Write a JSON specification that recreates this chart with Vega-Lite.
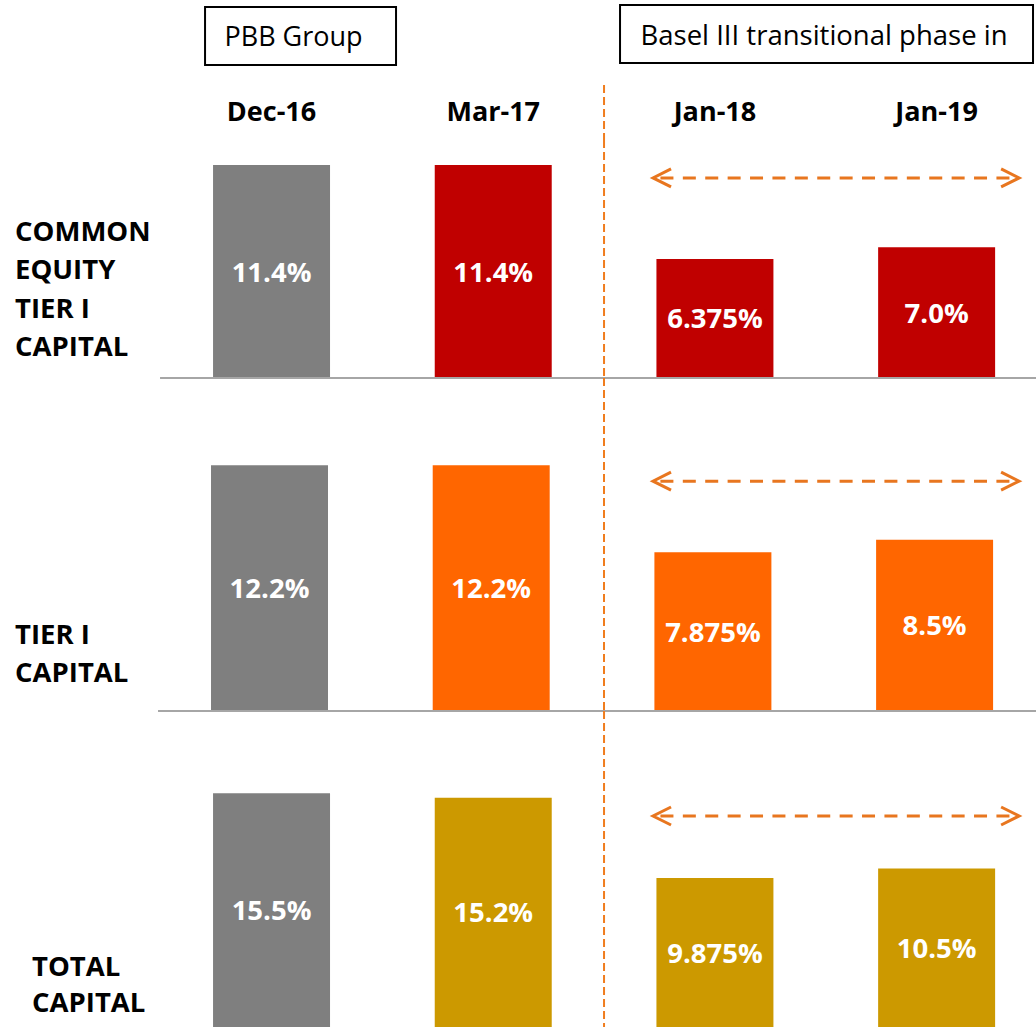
{
  "$schema": "https://vega.github.io/schema/vega-lite/v6.json",
  "padding": 0,
  "spacing": 0,
  "bounds": "flush",
  "background": "white",
  "config": {"view": {"stroke": null}, "axis": {"disable": true}, "font": "Open Sans"},
  "resolve": {"scale": {"x": "independent", "y": "independent", "color": "independent"}},
  "datasets": {
    "bars": [
      {"measure": "CET1", "period": "Dec-16", "value": 11.4, "label": "11.4%"},
      {"measure": "CET1", "period": "Mar-17", "value": 11.4, "label": "11.4%"},
      {"measure": "CET1", "period": "Jan-18", "value": 6.375, "label": "6.375%"},
      {"measure": "CET1", "period": "Jan-19", "value": 7.0, "label": "7.0%"},
      {"measure": "T1", "period": "Dec-16", "value": 12.2, "label": "12.2%"},
      {"measure": "T1", "period": "Mar-17", "value": 12.2, "label": "12.2%"},
      {"measure": "T1", "period": "Jan-18", "value": 7.875, "label": "7.875%"},
      {"measure": "T1", "period": "Jan-19", "value": 8.5, "label": "8.5%"},
      {"measure": "TC", "period": "Dec-16", "value": 15.5, "label": "15.5%"},
      {"measure": "TC", "period": "Mar-17", "value": 15.2, "label": "15.2%"},
      {"measure": "TC", "period": "Jan-18", "value": 9.875, "label": "9.875%"},
      {"measure": "TC", "period": "Jan-19", "value": 10.5, "label": "10.5%"}
    ]
  },
  "vconcat": [
    {
      "width": 1036,
      "height": 140,
      "layer": [
        {
          "data": {"name": "bars"},
          "transform": [{"filter": "datum.measure == 'CET1'"}],
          "mark": {"type": "text", "font": "Open Sans", "fontWeight": "bold", "fontSize": 27, "color": "black", "baseline": "middle", "dy": 2},
          "encoding": {
            "x": {"field": "period", "type": "nominal", "sort": null, "scale": {"domain": ["Dec-16", "Mar-17", "Jan-18", "Jan-19"], "paddingInner": 0.4723, "paddingOuter": 0.5727, "align": 0.839}},
            "y": {"datum": "columns", "type": "nominal", "scale": {"type": "band", "domain": ["boxes", "columns"], "paddingInner": 0.247, "paddingOuter": 0.0325, "align": 1}},
            "text": {"field": "period"}
          }
        },
        {
          "data": {"values": [{}]},
          "mark": {"type": "rect", "fill": "white", "stroke": "black", "strokeWidth": 2, "xOffset": -8, "x2Offset": 66, "yOffset": 2, "y2Offset": 2},
          "encoding": {
            "x": {"datum": "Dec-16", "type": "nominal", "bandPosition": 0},
            "x2": {"datum": "Dec-16", "bandPosition": 1},
            "y": {"datum": "boxes", "type": "nominal"}
          }
        },
        {
          "data": {"values": [{}]},
          "mark": {"type": "rect", "fill": "white", "stroke": "black", "strokeWidth": 2, "xOffset": -36.4, "x2Offset": 37.9},
          "encoding": {
            "x": {"datum": "Jan-18", "type": "nominal", "bandPosition": 0},
            "x2": {"datum": "Jan-19", "bandPosition": 1},
            "y": {"datum": "boxes", "type": "nominal"}
          }
        },
        {
          "data": {"values": [{}]},
          "mark": {"type": "text", "font": "Open Sans", "fontSize": 27, "color": "black", "align": "center", "baseline": "middle", "dx": 80.5, "dy": 4},
          "encoding": {
            "x": {"datum": "Dec-16", "type": "nominal", "bandPosition": 0},
            "y": {"datum": "boxes", "type": "nominal"},
            "text": {"value": "PBB Group"}
          }
        },
        {
          "data": {"values": [{}]},
          "mark": {"type": "text", "font": "Open Sans", "fontSize": 27.5, "color": "black", "align": "center", "baseline": "middle", "dx": 167.6, "dy": 3},
          "encoding": {
            "x": {"datum": "Jan-18", "type": "nominal", "bandPosition": 0},
            "y": {"datum": "boxes", "type": "nominal"},
            "text": {"value": "Basel III transitional phase in"}
          }
        },
        {
          "data": {"values": [{}]},
          "mark": {"type": "rule", "color": "#F07D1E", "strokeWidth": 2, "strokeDash": [8, 4], "xOffset": -52.4, "yOffset": 3},
          "encoding": {
            "x": {"datum": "Jan-18", "type": "nominal", "bandPosition": 0},
            "y": {"datum": "columns", "type": "nominal", "bandPosition": 0},
            "y2": {"datum": "columns", "bandPosition": 1}
          }
        }
      ]
    },
    {
      "width": 1036,
      "height": 238,
      "data": {"name": "bars"},
      "layer": [
        {
          "transform": [{"filter": "datum.measure == 'CET1'"}],
          "mark": {"type": "bar"},
          "encoding": {
            "x": {"field": "period", "type": "nominal", "sort": null, "scale": {"domain": ["Dec-16", "Mar-17", "Jan-18", "Jan-19"], "paddingInner": 0.4723, "paddingOuter": 0.5727, "align": 0.839}},
            "y": {"field": "value", "type": "quantitative", "scale": {"domain": [0, 12.74], "nice": false, "zero": true}},
            "color": {"field": "period", "type": "nominal", "scale": {"domain": ["Dec-16", "Mar-17", "Jan-18", "Jan-19"], "range": ["#7F7F7F", "#C00000", "#C00000", "#C00000"]}, "legend": null}
          }
        },
        {
          "transform": [{"filter": "datum.measure == 'CET1'"}, {"calculate": "datum.value / 2", "as": "mid"}],
          "mark": {"type": "text", "font": "Open Sans", "fontWeight": "bold", "fontSize": 27.5, "color": "white", "baseline": "middle", "dy": 2},
          "encoding": {
            "x": {"field": "period", "type": "nominal", "sort": null},
            "y": {"field": "mid", "type": "quantitative"},
            "text": {"field": "label"}
          }
        },
        {
          "data": {"values": [{}]},
          "mark": {"type": "rule", "color": "#A6A6A6", "strokeWidth": 2, "xOffset": -53, "x2Offset": 41},
          "encoding": {
            "x": {"datum": "Dec-16", "type": "nominal", "bandPosition": 0},
            "x2": {"datum": "Jan-19", "bandPosition": 1},
            "y": {"datum": 0, "type": "quantitative"}
          }
        },
        {
          "data": {"values": [{}]},
          "mark": {"type": "rule", "color": "#F07D1E", "strokeWidth": 2, "strokeDash": [8, 4], "xOffset": -52.4},
          "encoding": {
            "x": {"datum": "Jan-18", "type": "nominal", "bandPosition": 0}
          }
        },
        {
          "data": {"values": [{}]},
          "mark": {"type": "rule", "color": "#E8761F", "strokeWidth": 3, "strokeDash": [13, 9.4], "xOffset": 4, "x2Offset": 19},
          "encoding": {
            "x": {"datum": "Jan-18", "type": "nominal", "bandPosition": 0},
            "x2": {"datum": "Jan-19", "bandPosition": 1},
            "y": {"datum": 10.71, "type": "quantitative"}
          }
        },
        {
          "data": {"values": [{}]},
          "mark": {"type": "point", "shape": "M 0.9 -0.9 L -0.9 0 L 0.9 0.9", "size": 400, "filled": false, "color": "#E8761F", "strokeWidth": 3, "opacity": 1, "xOffset": 5.6},
          "encoding": {
            "x": {"datum": "Jan-18", "type": "nominal", "bandPosition": 0},
            "y": {"datum": 10.71, "type": "quantitative"}
          }
        },
        {
          "data": {"values": [{}]},
          "mark": {"type": "point", "shape": "M -0.9 -0.9 L 0.9 0 L -0.9 0.9", "size": 400, "filled": false, "color": "#E8761F", "strokeWidth": 3, "opacity": 1, "xOffset": 15},
          "encoding": {
            "x": {"datum": "Jan-19", "type": "nominal", "bandPosition": 1},
            "y": {"datum": 10.71, "type": "quantitative"}
          }
        },
        {
          "data": {"values": [{}]},
          "mark": {"type": "text", "font": "Open Sans", "fontWeight": "bold", "fontSize": 27.5, "color": "black", "align": "left", "baseline": "middle", "lineHeight": 38.3, "dx": -198, "dy": 2},
          "encoding": {
            "x": {"datum": "Dec-16", "type": "nominal", "bandPosition": 0},
            "y": {"datum": 7.87, "type": "quantitative"},
            "text": {"value": ["COMMON", "EQUITY", "TIER I", "CAPITAL"]}
          }
        }
      ]
    },
    {
      "width": 1036,
      "height": 333,
      "data": {"name": "bars"},
      "layer": [
        {
          "transform": [{"filter": "datum.measure == 'T1'"}],
          "mark": {"type": "bar"},
          "encoding": {
            "x": {"field": "period", "type": "nominal", "sort": null, "scale": {"domain": ["Dec-16", "Mar-17", "Jan-18", "Jan-19"], "paddingInner": 0.4723, "paddingOuter": 0.5727, "align": 0.831}},
            "y": {"field": "value", "type": "quantitative", "scale": {"domain": [0, 16.53], "nice": false, "zero": true}},
            "color": {"field": "period", "type": "nominal", "scale": {"domain": ["Dec-16", "Mar-17", "Jan-18", "Jan-19"], "range": ["#7F7F7F", "#FF6600", "#FF6600", "#FF6600"]}, "legend": null}
          }
        },
        {
          "transform": [{"filter": "datum.measure == 'T1'"}, {"calculate": "datum.value / 2", "as": "mid"}],
          "mark": {"type": "text", "font": "Open Sans", "fontWeight": "bold", "fontSize": 27.5, "color": "white", "baseline": "middle", "dy": 2},
          "encoding": {
            "x": {"field": "period", "type": "nominal", "sort": null},
            "y": {"field": "mid", "type": "quantitative"},
            "text": {"field": "label"}
          }
        },
        {
          "data": {"values": [{}]},
          "mark": {"type": "rule", "color": "#A6A6A6", "strokeWidth": 2, "xOffset": -53, "x2Offset": 43},
          "encoding": {
            "x": {"datum": "Dec-16", "type": "nominal", "bandPosition": 0},
            "x2": {"datum": "Jan-19", "bandPosition": 1},
            "y": {"datum": 0, "type": "quantitative"}
          }
        },
        {
          "data": {"values": [{}]},
          "mark": {"type": "rule", "color": "#F07D1E", "strokeWidth": 2, "strokeDash": [8, 4], "xOffset": -50.4},
          "encoding": {
            "x": {"datum": "Jan-18", "type": "nominal", "bandPosition": 0}
          }
        },
        {
          "data": {"values": [{}]},
          "mark": {"type": "rule", "color": "#E8761F", "strokeWidth": 3, "strokeDash": [13, 9.4], "xOffset": 6, "x2Offset": 21},
          "encoding": {
            "x": {"datum": "Jan-18", "type": "nominal", "bandPosition": 0},
            "x2": {"datum": "Jan-19", "bandPosition": 1},
            "y": {"datum": 11.41, "type": "quantitative"}
          }
        },
        {
          "data": {"values": [{}]},
          "mark": {"type": "point", "shape": "M 0.9 -0.9 L -0.9 0 L 0.9 0.9", "size": 400, "filled": false, "color": "#E8761F", "strokeWidth": 3, "opacity": 1, "xOffset": 7.6},
          "encoding": {
            "x": {"datum": "Jan-18", "type": "nominal", "bandPosition": 0},
            "y": {"datum": 11.41, "type": "quantitative"}
          }
        },
        {
          "data": {"values": [{}]},
          "mark": {"type": "point", "shape": "M -0.9 -0.9 L 0.9 0 L -0.9 0.9", "size": 400, "filled": false, "color": "#E8761F", "strokeWidth": 3, "opacity": 1, "xOffset": 17},
          "encoding": {
            "x": {"datum": "Jan-19", "type": "nominal", "bandPosition": 1},
            "y": {"datum": 11.41, "type": "quantitative"}
          }
        },
        {
          "data": {"values": [{}]},
          "mark": {"type": "text", "font": "Open Sans", "fontWeight": "bold", "fontSize": 27.5, "color": "black", "align": "left", "baseline": "middle", "lineHeight": 38.3, "dx": -196, "dy": 2},
          "encoding": {
            "x": {"datum": "Dec-16", "type": "nominal", "bandPosition": 0},
            "y": {"datum": 3.82, "type": "quantitative"},
            "text": {"value": ["TIER I", "CAPITAL"]}
          }
        }
      ]
    },
    {
      "width": 1036,
      "height": 316,
      "data": {"name": "bars"},
      "layer": [
        {
          "transform": [{"filter": "datum.measure == 'TC'"}],
          "mark": {"type": "bar"},
          "encoding": {
            "x": {"field": "period", "type": "nominal", "sort": null, "scale": {"domain": ["Dec-16", "Mar-17", "Jan-18", "Jan-19"], "paddingInner": 0.4723, "paddingOuter": 0.5727, "align": 0.839}},
            "y": {"field": "value", "type": "quantitative", "scale": {"domain": [0, 20.95], "nice": false, "zero": true}},
            "color": {"field": "period", "type": "nominal", "scale": {"domain": ["Dec-16", "Mar-17", "Jan-18", "Jan-19"], "range": ["#7F7F7F", "#CC9900", "#CC9900", "#CC9900"]}, "legend": null}
          }
        },
        {
          "transform": [{"filter": "datum.measure == 'TC'"}, {"calculate": "datum.value / 2", "as": "mid"}],
          "mark": {"type": "text", "font": "Open Sans", "fontWeight": "bold", "fontSize": 27.5, "color": "white", "baseline": "middle", "dy": 2},
          "encoding": {
            "x": {"field": "period", "type": "nominal", "sort": null},
            "y": {"field": "mid", "type": "quantitative"},
            "text": {"field": "label"}
          }
        },
        {
          "data": {"values": [{}]},
          "mark": {"type": "rule", "color": "#F07D1E", "strokeWidth": 2, "strokeDash": [8, 4], "xOffset": -52.4},
          "encoding": {
            "x": {"datum": "Jan-18", "type": "nominal", "bandPosition": 0}
          }
        },
        {
          "data": {"values": [{}]},
          "mark": {"type": "rule", "color": "#E8761F", "strokeWidth": 3, "strokeDash": [13, 9.4], "xOffset": 4, "x2Offset": 19},
          "encoding": {
            "x": {"datum": "Jan-18", "type": "nominal", "bandPosition": 0},
            "x2": {"datum": "Jan-19", "bandPosition": 1},
            "y": {"datum": 13.99, "type": "quantitative"}
          }
        },
        {
          "data": {"values": [{}]},
          "mark": {"type": "point", "shape": "M 0.9 -0.9 L -0.9 0 L 0.9 0.9", "size": 400, "filled": false, "color": "#E8761F", "strokeWidth": 3, "opacity": 1, "xOffset": 5.6},
          "encoding": {
            "x": {"datum": "Jan-18", "type": "nominal", "bandPosition": 0},
            "y": {"datum": 13.99, "type": "quantitative"}
          }
        },
        {
          "data": {"values": [{}]},
          "mark": {"type": "point", "shape": "M -0.9 -0.9 L 0.9 0 L -0.9 0.9", "size": 400, "filled": false, "color": "#E8761F", "strokeWidth": 3, "opacity": 1, "xOffset": 15},
          "encoding": {
            "x": {"datum": "Jan-19", "type": "nominal", "bandPosition": 1},
            "y": {"datum": 13.99, "type": "quantitative"}
          }
        },
        {
          "data": {"values": [{}]},
          "mark": {"type": "text", "font": "Open Sans", "fontWeight": "bold", "fontSize": 27.5, "color": "black", "align": "left", "baseline": "middle", "lineHeight": 36.5, "dx": -181, "dy": 2},
          "encoding": {
            "x": {"datum": "Dec-16", "type": "nominal", "bandPosition": 0},
            "y": {"datum": 4.05, "type": "quantitative"},
            "text": {"value": ["TOTAL", "CAPITAL"]}
          }
        }
      ]
    }
  ]
}
